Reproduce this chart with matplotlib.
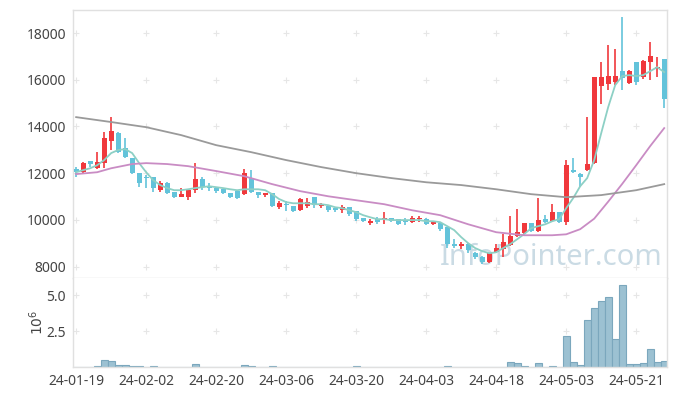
import numpy as np
import matplotlib.pyplot as plt

plt.rcParams['font.family'] = ['Noto Sans', 'DejaVu Sans']

# precios diarios (indice 0 = 24-01-19, solo dias de bolsa)
opens = [12170, 12040, 12510, 12210, 12430, 13370, 13700, 13070, 12640, 12000,
         11850, 11830, 11270, 11570, 11180, 11000, 11000, 11270, 11740, 11440,
         11360, 11310, 11140, 11230, 11100, 11780, 11180, 11050, 11140, 10540,
         10680, 10590, 10410, 10590, 10970, 10600, 10590, 10500, 10410, 10540,
         10370, 10070, 9860, 10030, 10000, 10070, 10030, 9990, 9900, 10030,
         10030, 9820, 9860, 9680, 8960, 8880, 8960, 8570, 8400, 8190,
         8610, 8740, 8910, 9300, 9430, 9860, 9510, 10030, 9940, 10330,
         9900, 12130, 11960, 12130, 12430, 15730, 15810, 15900, 16370, 15860,
         16760, 16110, 16760, 16480, 16880]
highs = [12260, 12470, 12510, 12900, 13760, 14400, 13750, 13500, 12650, 12000,
         11900, 11850, 11650, 11600, 11200, 11380, 11300, 12430, 11850, 11570,
         11400, 11330, 11160, 11250, 12170, 12130, 11200, 11160, 11160, 10800,
         10800, 10600, 10930, 10930, 10980, 10720, 10620, 10520, 10640, 10560,
         10380, 10100, 10040, 10110, 10330, 10100, 10050, 10060, 10160, 10160,
         10060, 9950, 9900, 9700, 9170, 9060, 8990, 8610, 8440, 8600,
         8950, 9380, 10160, 10460, 9880, 9880, 10930, 10200, 10670, 10350,
         12560, 12640, 12000, 14400, 16110, 16760, 17490, 17310, 18700, 16400,
         16780, 16850, 17610, 16970, 16900]
lows = [11830, 11990, 12260, 12170, 12200, 13000, 12850, 12640, 11950, 11400,
        11350, 11180, 11200, 11100, 10950, 10990, 10850, 11140, 11270, 11250,
        11140, 11100, 10930, 10900, 11050, 11150, 10930, 10980, 10540, 10470,
        10380, 10330, 10370, 10500, 10500, 10500, 10330, 10330, 10300, 10150,
        9950, 9900, 9800, 9840, 9840, 9900, 9800, 9800, 9860, 9900,
        9780, 9780, 9510, 8790, 8790, 8740, 8600, 8310, 8100, 8150,
        8600, 8400, 8890, 9250, 9400, 9470, 9470, 9850, 9900, 9860,
        9770, 12000, 11400, 12100, 12390, 14960, 15560, 15770, 15560, 15820,
        15770, 16030, 15990, 16110, 14790]
closes = [12040, 12430, 12390, 12470, 13500, 13800, 12900, 12690, 12000, 11570,
          11800, 11350, 11570, 11140, 10970, 11100, 11270, 11740, 11400, 11360,
          11230, 11140, 10970, 10930, 12000, 11180, 11050, 11140, 10590, 10710,
          10640, 10370, 10880, 10760, 10630, 10650, 10410, 10410, 10540, 10240,
          10030, 9950, 9950, 9900, 10070, 9950, 9820, 9900, 10070, 10080,
          9820, 9900, 9600, 8960, 8900, 8950, 8700, 8400, 8190, 8570,
          8790, 9040, 9300, 9470, 9860, 9510, 9990, 9910, 10330, 9900,
          12340, 12040, 11830, 12390, 16110, 16110, 16160, 16160, 16070, 16370,
          15900, 16800, 17000, 16540, 15170]

# volumen en millones
volume = [0.01, 0.01, 0.01, 0.05, 0.47, 0.40, 0.12, 0.12, 0.05, 0.05,
          0.01, 0.04, 0.01, 0.01, 0.01, 0.01, 0.01, 0.19, 0.01, 0.01,
          0.01, 0.01, 0.01, 0.01, 0.12, 0.05, 0.01, 0.01, 0.04, 0.01,
          0.01, 0.01, 0.01, 0.01, 0.01, 0.01, 0.01, 0.01, 0.01, 0.01,
          0.04, 0.01, 0.01, 0.01, 0.01, 0.01, 0.01, 0.01, 0.01, 0.01,
          0.01, 0.01, 0.01, 0.04, 0.01, 0.01, 0.01, 0.01, 0.01, 0.01,
          0.01, 0.03, 0.35, 0.26, 0.04, 0.01, 0.26, 0.01, 0.04, 0.01,
          2.16, 0.33, 0.16, 3.29, 4.13, 4.63, 4.91, 1.95, 5.70, 0.19,
          0.19, 0.26, 1.25, 0.33, 0.42]

# medias moviles
ma5 = [12040, 12130, 12210, 12340, 12560, 12860, 12990, 13030, 12860, 12430,
       12040, 11700, 11490, 11360, 11270, 11270, 11310, 11360, 11400, 11440,
       11400, 11360, 11310, 11270, 11310, 11310, 11310, 11270, 11100, 10890,
       10760, 10710, 10710, 10710, 10670, 10670, 10630, 10540, 10500, 10410,
       10330, 10200, 10110, 10030, 10030, 9990, 9990, 9990, 9990, 9990,
       9940, 9940, 9900, 9730, 9560, 9260, 9000, 8790, 8660, 8570,
       8610, 8790, 8960, 9170, 9390, 9640, 9730, 9810, 9940, 10030,
       10500, 10930, 11440, 11790, 12560, 13710, 14830, 15770, 16160, 16200,
       16160, 16200, 16370, 16540, 16330]
ma20_idx = [0, 3, 5, 8, 10, 13, 16, 20, 24, 28, 32, 36, 40, 44, 48, 52, 56,
            60, 64, 68, 70, 72, 74, 76, 78, 80, 82, 84]
ma20 = [11960, 12040, 12210, 12390, 12430, 12390, 12300, 12090, 11870, 11530,
        11230, 11010, 10840, 10670, 10410, 10200, 9810, 9470, 9340, 9340,
        9380, 9600, 10050, 10780, 11540, 12340, 13160, 13930]
ma_long_idx = [0, 5, 10, 15, 20, 25, 30, 35, 40, 45, 50, 55, 60, 65, 70, 75, 80, 84]
ma_long = [14400, 14190, 13970, 13630, 13200, 12900, 12560, 12260, 12000, 11790,
           11610, 11490, 11310, 11100, 10970, 11060, 11270, 11530]

tick_pos = [0, 10, 20, 30, 40, 50, 60, 70, 80]
tick_labels = ['24-01-19', '24-02-02', '24-02-20', '24-03-06', '24-03-20',
               '24-04-03', '24-04-18', '24-05-03', '24-05-21']
price_ticks = [8000, 10000, 12000, 14000, 16000, 18000]
vol_ticks = [2.5, 5.0]

RED = '#f0383c'
BLUE = '#63c3da'
TXT = '#444444'
SPINE = '#e0e0e0'

fig = plt.figure(figsize=(6.77, 3.96), dpi=100)
ax = fig.add_axes([73/677, 1-277.5/396, 594/677, 267.5/396])
axv = fig.add_axes([73/677, 1-367/396, 594/677, 89.5/396], sharex=ax)

x = np.arange(len(opens))
o = np.array(opens)
c = np.array(closes)
col = np.where(c >= o, RED, BLUE)

# mechas y cuerpos
ax.vlines(x, lows, highs, color=col, lw=1.2, zorder=3)
h = np.abs(c - o)
hb = np.maximum(h, 45)
ax.bar(x, hb, bottom=np.minimum(o, c) - (hb - h)/2, width=0.72, color=col, zorder=4)

# medias
ax.plot(x, ma5, color='#8dd0c5', lw=1.3, zorder=5)
ax.plot(ma20_idx, ma20, color='#c98cc4', lw=1.3, zorder=5)
ax.plot(ma_long_idx, ma_long, color='#9a9a9a', lw=1.3, zorder=5)

# marca de agua
ax.text(0.805, 0.075, 'InfoPointer.com', transform=ax.transAxes, ha='center', va='center',
        fontsize=21, color='#b9cfdc', alpha=0.75, zorder=1)

# cruces en lugar de rejilla
gx, gy = np.meshgrid(tick_pos, price_ticks)
ax.scatter(gx.ravel(), gy.ravel(), marker='+', s=18, color='#e6e6e6', lw=0.8, zorder=0)
gx, gy = np.meshgrid(tick_pos, vol_ticks)
axv.scatter(gx.ravel(), gy.ravel(), marker='+', s=18, color='#e6e6e6', lw=0.8, zorder=0)

axv.bar(x, volume, width=1.0, color='#9cc1d2', edgecolor='#7ba7bd', lw=0.8, zorder=2)

ax.set_xlim(-0.45, 84.4)
ax.set_ylim(7530, 18990)
axv.set_ylim(0, 6.25)

ax.set_yticks(price_ticks)
ax.set_yticklabels([str(v) for v in price_ticks])
axv.set_yticks(vol_ticks)
axv.set_yticklabels(['%.1f' % v for v in vol_ticks])
axv.set_xticks(tick_pos)
axv.set_xticklabels(tick_labels)
axv.set_ylabel(r'$10^6$', color=TXT, fontsize=10, labelpad=0)

for a in (ax, axv):
    a.tick_params(length=0, labelsize=10, colors=TXT, pad=5)
    for s in a.spines.values():
        s.set_color(SPINE)
        s.set_linewidth(1)
ax.tick_params(labelbottom=False)
axv.spines['top'].set_visible(False)

plt.savefig('out.png', dpi=100)
